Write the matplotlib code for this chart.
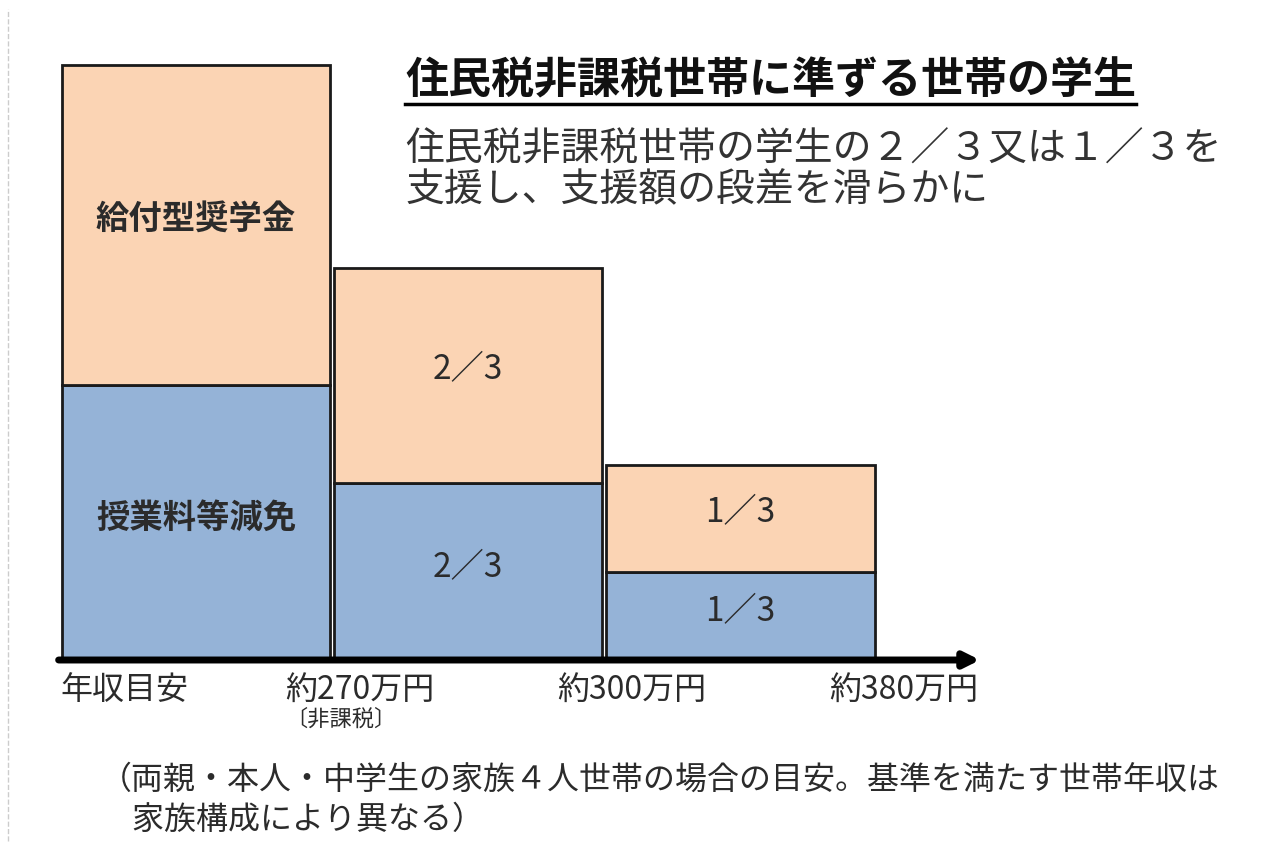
import matplotlib
matplotlib.use("Agg")
import matplotlib.pyplot as plt
from matplotlib.lines import Line2D

plt.rcParams['font.family'] = ['Noto Sans CJK JP', 'DejaVu Sans']

# data (heights relative to the first tuition bar)
tuition = [1.0, 0.644, 0.32]           # 授業料等減免
grant = [1.164, 0.782, 0.389]          # 給付型奨学金
tuition_labels = ['授業料等減免', '2／3', '1／3']
grant_labels = ['給付型奨学金', '2／3', '1／3']
tick_labels = ['年収目安', '約270万円', '約300万円', '約380万円']

peach = '#FBD4B4'
blue = '#95B3D7'
txt = '#2b2b2b'

fig = plt.figure(figsize=(12.82, 8.58), dpi=100)
ax = fig.add_axes([60 / 1282, 198 / 858, 920 / 1282, 660 / 858])
ax.set_xlim(0, 3.38)
ax.set_ylim(0, 2.4)
ax.axis('off')

xs = [0.5, 1.5, 2.5]
ax.bar(xs, tuition, width=0.985, color=blue, edgecolor='#1a1a1a', linewidth=2)
ax.bar(xs, grant, width=0.985, bottom=tuition, color=peach, edgecolor='#1a1a1a', linewidth=2)

for i, x in enumerate(xs):
    bold = 'bold' if i == 0 else 'normal'
    ax.text(x, tuition[i] / 2 + 0.015, tuition_labels[i], ha='center', va='center',
            fontsize=24, fontweight=bold, color=txt)
    ax.text(x, tuition[i] + grant[i] / 2 + 0.02, grant_labels[i], ha='center', va='center',
            fontsize=24, fontweight=bold, color=txt)

# axis arrow
ax.annotate('', xy=(3.38, 0), xytext=(-0.005, 0),
            arrowprops=dict(arrowstyle='-|>,head_length=0.9,head_width=0.45',
                            color='black', lw=5, shrinkA=0, shrinkB=0),
            annotation_clip=False)

# tick labels below the axis
ax.text(0.0, -0.11, tick_labels[0], ha='left', va='center', fontsize=23, color=txt)
for i, lab in enumerate(tick_labels[1:]):
    ax.text(i + 1 + 0.1, -0.11, lab, ha='center', va='center', fontsize=23, color=txt)
ax.text(1.03, -0.215, '〔非課税〕', ha='center', va='center', fontsize=16, color=txt)

# header texts
title = fig.text(405 / 1282, 1 - 80 / 858, '住民税非課税世帯に準ずる世帯の学生',
                 ha='left', va='center', fontsize=31, fontweight='bold', color='#111111')
fig.text(405 / 1282, 1 - 170 / 858, '住民税非課税世帯の学生の２／３又は１／３を\n支援し、支援額の段差を滑らかに',
         ha='left', va='center', fontsize=28, color='#333333', linespacing=1.0)

# footnote
fig.text(100 / 1282, 1 - 800 / 858,
         '（両親・本人・中学生の家族４人世帯の場合の目安。基準を満たす世帯年収は\n\u3000家族構成により異なる）',
         ha='left', va='center', fontsize=23, color=txt, linespacing=1.35)

# underline under title
fig.canvas.draw()
bb = title.get_window_extent().transformed(fig.transFigure.inverted())
fig.add_artist(Line2D([bb.x0, bb.x1], [bb.y0 - 0.002, bb.y0 - 0.002],
                      transform=fig.transFigure, color='black', lw=2.5))

# faint dashed frame at the left edge
fig.add_artist(Line2D([8 / 1282, 8 / 1282], [0.02, 0.99], transform=fig.transFigure,
                      color='#cccccc', lw=1, ls='--'))

fig.savefig('out.png', dpi=100, facecolor='white')
